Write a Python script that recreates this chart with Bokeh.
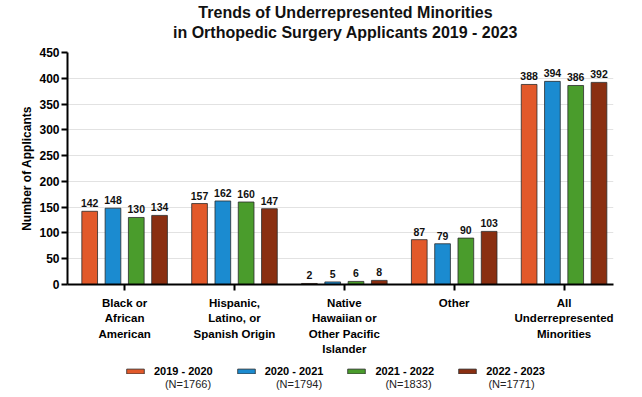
from bokeh.plotting import figure
from bokeh.layouts import column
from bokeh.models import (ColumnDataSource, FixedTicker, Label, LabelSet, Range1d,
                          Legend, LegendItem)
from bokeh.core.properties import value
from bokeh.embed import file_html
from bokeh.resources import INLINE

# ---------------- data ----------------
categories = [
    "Black or\nAfrican\nAmerican",
    "Hispanic,\nLatino, or\nSpanish Origin",
    "Native\nHawaiian or\nOther Pacific\nIslander",
    "Other",
    "All\nUnderrepresented\nMinorities",
]
seasons = ["2019 - 2020", "2020 - 2021", "2021 - 2022", "2022 - 2023"]
sample_sizes = ["(N=1766)", "(N=1794)", "(N=1833)", "(N=1771)"]
counts_2019_2020 = [142, 157, 2, 87, 388]
counts_2020_2021 = [148, 162, 5, 79, 394]
counts_2021_2022 = [130, 160, 6, 90, 386]
counts_2022_2023 = [134, 147, 8, 103, 392]
series = [counts_2019_2020, counts_2020_2021, counts_2021_2022, counts_2022_2023]
y_ticks = [0, 50, 100, 150, 200, 250, 300, 350, 400, 450]
title_lines = ["Trends of Underrepresented Minorities",
               "in Orthopedic Surgery Applicants 2019 - 2023"]

# ---------------- style ----------------
colors = ["#E2592A", "#1B8BD0", "#4A9C2C", "#8A2F11"]
FONT = "Liberation Sans"
offsets = [-0.318, -0.106, 0.106, 0.318]
bar_width = 0.143
W = 642


def blank(height):
    f = figure(width=W, height=height, output_backend="svg", toolbar_location=None,
               x_range=Range1d(0, W), y_range=Range1d(0, height),
               x_axis_location=None, y_axis_location=None,
               min_border=0, min_border_left=0, min_border_right=0,
               min_border_top=0, min_border_bottom=0)
    f.grid.visible = False
    f.outline_line_color = None
    return f


# ---------------- title strip (frame aligned with the chart's frame) ----------------
tf = blank(45)
for txt, yy in zip(title_lines, [33.5, 13.5]):
    tf.add_layout(Label(x=278, y=yy, x_units="screen", y_units="screen", text=txt,
                        text_align="center", text_baseline="alphabetic",
                        text_font=FONT, text_font_size="16px",
                        text_font_style="bold", text_color="#111111"))

# ---------------- main chart ----------------
p = figure(width=W, height=315, output_backend="svg", toolbar_location=None,
           x_range=Range1d(-0.52, 4.45), y_range=Range1d(0, 450),
           min_border_left=67, min_border_right=29, min_border_top=7,
           min_border_bottom=76)
p.outline_line_color = None

positions = list(range(len(categories)))
for vals, col, off in zip(series, colors, offsets):
    src = ColumnDataSource(dict(x=[i + off for i in positions], top=vals,
                                txt=[str(v) for v in vals]))
    p.vbar(x="x", top="top", width=bar_width, source=src, fill_color=col,
           line_color="#2b2b2b", line_width=0.8)
    p.add_layout(LabelSet(x="x", y="top", text="txt", source=src, y_offset=4,
                          text_align="center", text_baseline="bottom",
                          text_font=value(FONT), text_font_size="10.5px",
                          text_font_style="bold", text_color="#111111"))

p.yaxis.ticker = FixedTicker(ticks=y_ticks)
p.yaxis.axis_label = "Number of Applicants"
p.yaxis.axis_label_text_font = FONT
p.yaxis.axis_label_text_font_size = "12px"
p.yaxis.axis_label_text_font_style = "bold"
p.yaxis.axis_label_text_color = "black"
p.yaxis.axis_label_standoff = 2
p.yaxis.major_label_standoff = 2
p.xaxis.ticker = FixedTicker(ticks=positions)
p.xaxis.major_label_overrides = {i: c for i, c in zip(positions, categories)}
for ax in (p.xaxis, p.yaxis):
    ax.axis_line_width = 2
    ax.axis_line_color = "black"
    ax.major_tick_line_width = 2
    ax.major_tick_line_color = "black"
    ax.major_tick_out = 6
    ax.major_tick_in = 0
    ax.minor_tick_line_color = None
    ax.major_label_text_font = FONT
    ax.major_label_text_font_style = "bold"
    ax.major_label_text_color = "black"
p.yaxis.major_label_text_font_size = "12px"
p.xaxis.major_label_text_font_size = "11.5px"
p.xaxis.major_label_text_line_height = 1.3
p.xaxis.major_label_standoff = 6

p.xgrid.visible = False
p.ygrid.ticker = FixedTicker(ticks=y_ticks)
p.ygrid.grid_line_color = "#e2e2e2"
p.ygrid.grid_line_width = 1

# ---------------- legend strip ----------------
lf = blank(37)
items = []
for s, col in zip(seasons, colors):
    # one off-screen bar so the legend swatch has a glyph to draw
    r = lf.vbar(x=[-500], top=[0], width=1, fill_color=col, line_color="#2b2b2b",
                line_width=0.8)
    items.append(LegendItem(label=s, renderers=[r]))
legend = Legend(items=items, orientation="horizontal", location=(57, 20),
                glyph_width=22, glyph_height=6, label_standoff=8, spacing=22,
                padding=0, margin=0, border_line_color=None,
                background_fill_alpha=0, label_text_font=FONT,
                label_text_font_size="11px", label_text_font_style="bold",
                label_text_color="black", label_height=12)
lf.add_layout(legend, "center")
for txt, xx in zip(sample_sizes, [120.5, 231.5, 341, 444]):
    lf.add_layout(Label(x=xx, y=14, x_units="screen", y_units="screen", text=txt,
                        text_align="center", text_baseline="middle",
                        text_font=FONT, text_font_size="11px",
                        text_color="#222222"))

layout = column(tf, p, lf, spacing=0)
open("out.html", "w").write(file_html(layout, INLINE))
